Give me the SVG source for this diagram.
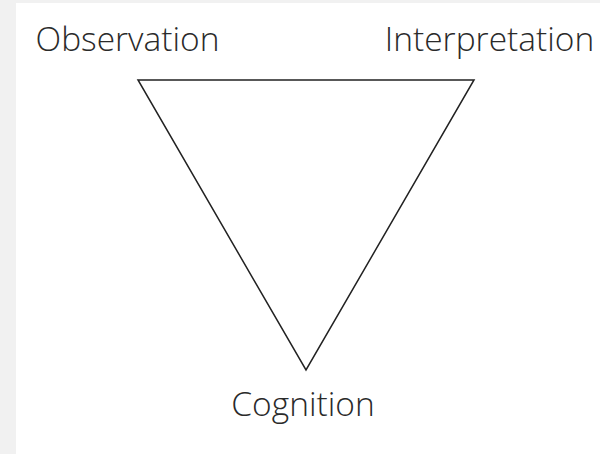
<svg xmlns="http://www.w3.org/2000/svg" width="600" height="454" viewBox="0 0 600 454">
<style>
.lbl{font-family:"Open Sans","Liberation Sans",sans-serif;font-weight:300;font-size:33.5px;fill:#2a2a2a;text-anchor:middle}
.edge{fill:none;stroke:#222;stroke-width:1.5;stroke-linejoin:miter}
</style>
<rect x="0" y="0" width="600" height="454" fill="#ffffff"/>
<rect x="0" y="0" width="16" height="454" fill="#f1f1f1"/>
<rect x="0" y="0" width="600" height="3" fill="#f1f1f1"/>
<g id="connectors">
<polygon class="edge" points="138,80 474,80 306,370"/>
</g>
<g id="observation"><text class="lbl" x="127.5" y="51">Observation</text></g>
<g id="interpretation"><text class="lbl" x="489.5" y="51">Interpretation</text></g>
<g id="cognition"><text class="lbl" x="303" y="416">Cognition</text></g>
</svg>
